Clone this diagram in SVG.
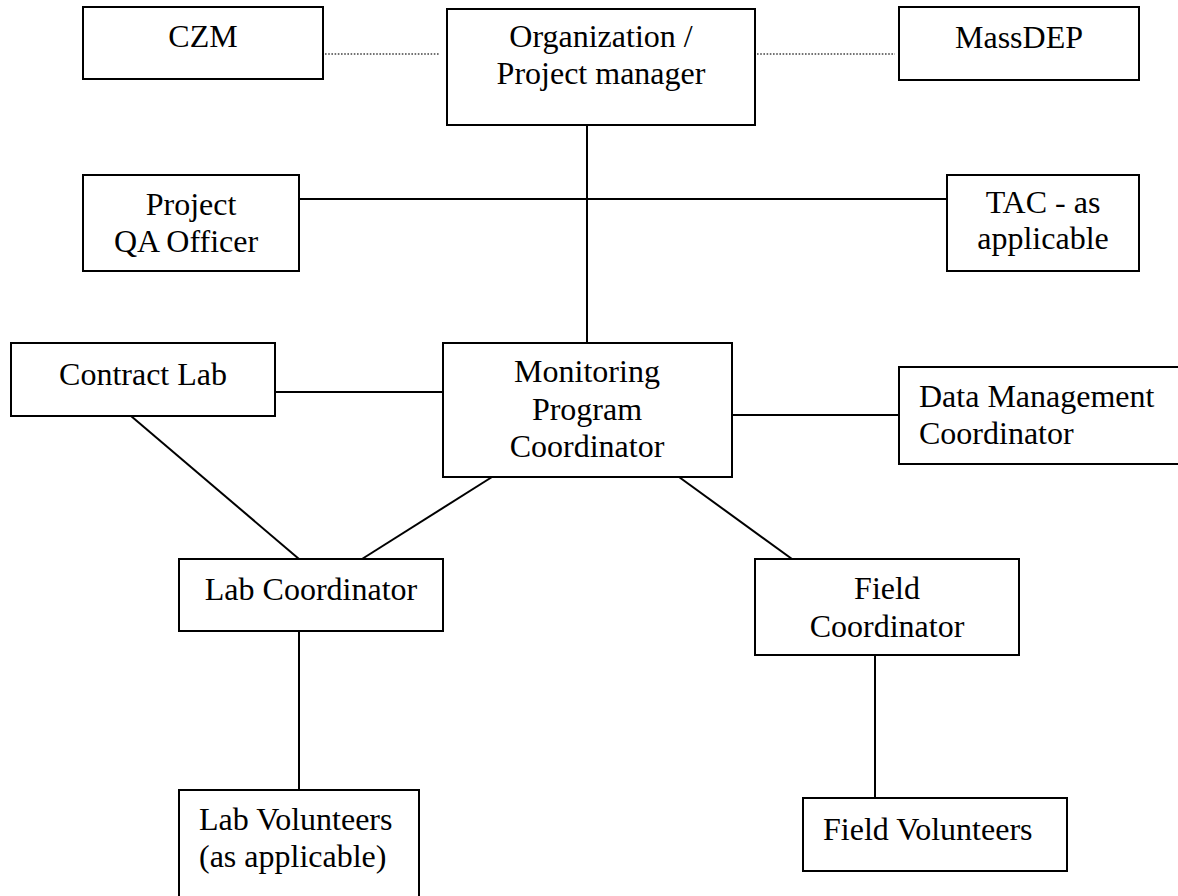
<svg xmlns="http://www.w3.org/2000/svg" width="1178" height="896" viewBox="0 0 1178 896">
<style>
.box{fill:#fff;stroke:#000;stroke-width:2}
.t{font-family:'Liberation Serif','Times New Roman',Times,serif;font-size:32px;fill:#000}
.c{text-anchor:middle}
.ln{stroke:#000;stroke-width:2;fill:none}
.dot{stroke:#444;stroke-width:1.6;stroke-dasharray:1.6,1.6;fill:none}
</style>
<rect width="1178" height="896" fill="#fff"/>
<g id="connectors">
<line class="dot" x1="325" y1="54" x2="440" y2="54"/>
<line class="dot" x1="757" y1="54" x2="895" y2="54"/>
<line class="ln" x1="587" y1="125" x2="587" y2="343"/>
<line class="ln" x1="299" y1="199" x2="947" y2="199"/>
<line class="ln" x1="275" y1="392" x2="443" y2="392"/>
<line class="ln" x1="732" y1="415" x2="899" y2="415"/>
<line class="ln" x1="131" y1="416" x2="299" y2="559"/>
<line class="ln" x1="492" y1="477" x2="362" y2="559"/>
<line class="ln" x1="679" y1="477" x2="792" y2="559"/>
<line class="ln" x1="299" y1="631" x2="299" y2="790"/>
<line class="ln" x1="875" y1="655" x2="875" y2="798"/>
</g>
<g font-family="Liberation Serif, serif">
<g id="czm">
<rect class="box" x="83" y="7" width="240" height="72"/>
<text class="t c" x="203" y="47">CZM</text>
</g>
<g id="org">
<rect class="box" x="447" y="9" width="308" height="116"/>
<text class="t c" x="601" y="47">Organization /</text>
<text class="t c" x="601" y="84">Project manager</text>
</g>
<g id="massdep">
<rect class="box" x="899" y="7" width="240" height="73"/>
<text class="t c" x="1019" y="48">MassDEP</text>
</g>
<g id="qa">
<rect class="box" x="83" y="175" width="216" height="96"/>
<text class="t c" x="191" y="215">Project</text>
<text class="t c" x="186" y="252">QA Officer</text>
</g>
<g id="tac">
<rect class="box" x="947" y="175" width="192" height="96"/>
<text class="t c" x="1043" y="213">TAC - as</text>
<text class="t c" x="1043" y="249">applicable</text>
</g>
<g id="contract-lab">
<rect class="box" x="11" y="343" width="264" height="73"/>
<text class="t c" x="143" y="385">Contract Lab</text>
</g>
<g id="monitoring">
<rect class="box" x="443" y="343" width="289" height="134"/>
<text class="t c" x="587" y="382">Monitoring</text>
<text class="t c" x="587" y="419.5">Program</text>
<text class="t c" x="587" y="457">Coordinator</text>
</g>
<g id="data-management">
<path class="box" d="M1180,367 H899 V464 H1180"/>
<text class="t" x="919" y="407">Data Management</text>
<text class="t" x="919" y="444">Coordinator</text>
</g>
<g id="lab-coordinator">
<rect class="box" x="179" y="559" width="264" height="72"/>
<text class="t c" x="311" y="600">Lab Coordinator</text>
</g>
<g id="field-coordinator">
<rect class="box" x="755" y="559" width="264" height="96"/>
<text class="t c" x="887" y="599">Field</text>
<text class="t c" x="887" y="637">Coordinator</text>
</g>
<g id="lab-volunteers">
<rect class="box" x="179" y="790" width="240" height="112"/>
<text class="t" x="199" y="830">Lab Volunteers</text>
<text class="t" x="199" y="867">(as applicable)</text>
</g>
<g id="field-volunteers">
<rect class="box" x="803" y="798" width="264" height="73"/>
<text class="t" x="823" y="840">Field Volunteers</text>
</g>
</g>
</svg>
